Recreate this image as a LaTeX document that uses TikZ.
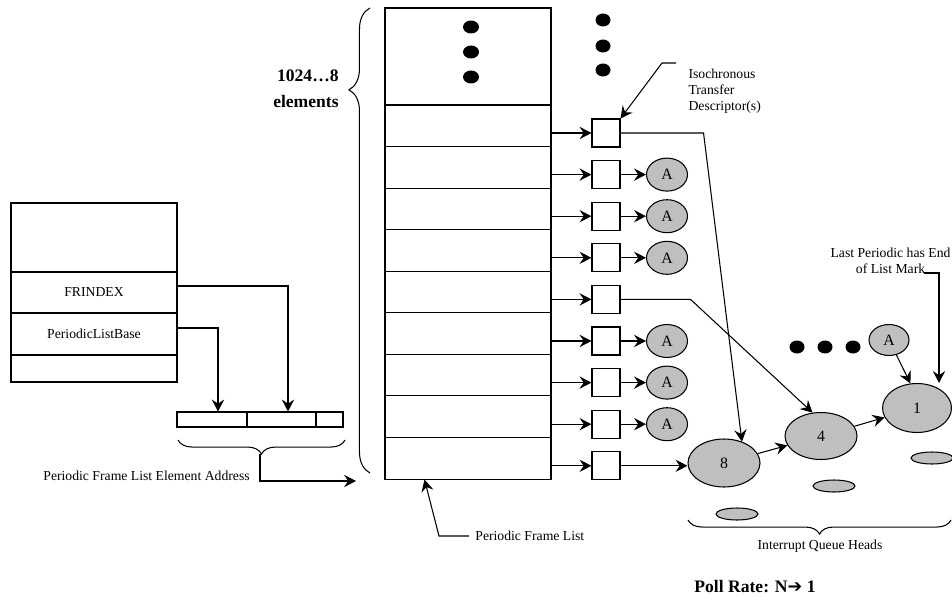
\documentclass[tikz,border=0pt]{standalone}
\usepackage{fontspec}
\setmainfont{Liberation Serif}
\newfontfamily\symfont{DejaVu Sans}
\usetikzlibrary{arrows.meta,shapes.geometric,decorations.pathreplacing}
\newcommand{\txt}{\fontsize{7.8}{9}\selectfont}
\newcommand{\qtxt}{\fontsize{9}{10}\selectfont}
\newcommand{\btxt}{\fontsize{10}{14.7}\selectfont\bfseries}

\begin{document}
\begin{tikzpicture}[x=0.02cm,y=-0.02cm,line width=0.6pt,
	>={Stealth[length=6.8pt,width=7pt,inset=2.4pt]},
	every node/.style={font=\txt},
	cell/.style={draw,inner sep=0pt,minimum width=33.2mm},
	frow/.style={draw,inner sep=0pt,minimum width=33.2mm,minimum height=8.31mm},
	td/.style={draw,inner sep=0pt,minimum size=5.6mm},
	qa/.style={ellipse,draw,fill=gray!50,inner sep=0pt,font=\qtxt,minimum width=8.2mm,minimum height=6.6mm},
	qh/.style={ellipse,draw,fill=gray!50,inner sep=0pt,font=\qtxt},
	flat/.style={draw,fill=gray!50}]
	%	\draw[help lines] (0,0) grid[step=50] (952,601);
	\useasboundingbox (0,0) rectangle (952,601);

	% register block
	\node[cell,minimum height=13.8mm] (reg0) at (94,237.5) {};
	\node[cell,minimum height=8.2mm] (frindex) at (94,292.5) {FRINDEX};
	\node[cell,minimum height=8.4mm] (plb) at (94,334) {PeriodicListBase};
	\node[cell,minimum height=5.4mm] (reg3) at (94,368.5) {};

	% address bar
	\node[cell,minimum width=14mm,minimum height=3mm] (ad1) at (212,419.5) {};
	\node[cell,minimum width=13.8mm,minimum height=3mm] (ad2) at (281.5,419.5) {};
	\node[cell,minimum width=5.4mm,minimum height=3mm] (ad3) at (329.5,419.5) {};

	\draw[->] ([yshift=1.3mm]frindex.east) -| ([xshift=1.3mm]ad2.north);
	\draw[->] ([yshift=1.2mm]plb.east) -| ([xshift=1.2mm]ad1.north);

	\draw[decorate,decoration={brace,mirror,amplitude=8pt}] (178,440) -- (345,440);
	\coordinate (adtip) at (260,454);
	\coordinate (flin) at (356,481);
	\draw[->] (adtip) |- (flin);
	\node[anchor=west] (addr) at (37,476) {Periodic Frame List Element Address};

	% frame list
	\draw[decorate,decoration={brace,amplitude=12pt,aspect=0.824}] (370,473) -- (370,8);
	\node[font=\btxt,align=right,anchor=east] (nel) at (345,89) {1024…8\\elements};

	\node[cell,minimum height=19.4mm] (ftop) at (468,56.5) {};
	\foreach \i in {1,...,9}{
		\node[frow] (r\i) at (468,{105+41.56*(\i-0.5)}) {};
		\node[td] (b\i) at (606,{133+41.6*(\i-1)}) {};
		\draw[->] (r\i.east |- b\i) -- (b\i.west);
	}
	\foreach \i in {2,3,4,6,7,8}{
		\node[qa] (a\i) at (667,{133+41.6*(\i-1)}) {A};
		\draw[->] (b\i) -- (a\i);
	}

	\foreach \y in {27,52,77} \fill (471,\y) ellipse [x radius=1.6mm,y radius=1.3mm];
	\foreach \y in {20,46,70} \fill (603,\y) ellipse [x radius=1.5mm,y radius=1.3mm];
	\foreach \x in {797,825,853} \fill (\x,347) ellipse [x radius=1.5mm,y radius=1.3mm];

	% queue heads
	\node[qh,minimum width=14.4mm,minimum height=9.6mm] (q8) at (724,463) {8};
	\node[qh,minimum width=14.4mm,minimum height=9.4mm] (q4) at (821,436) {4};
	\node[qh,minimum width=13.8mm,minimum height=9.8mm] (q1) at (917,408) {1};
	\node[qa,minimum width=8mm,minimum height=6.2mm] (aN) at (889,340) {A};

	\filldraw[flat] (737,514) ellipse [x radius=4.2mm,y radius=1.2mm];
	\filldraw[flat] (834,486) ellipse [x radius=4.2mm,y radius=1.2mm];
	\filldraw[flat] (932,458) ellipse [x radius=4.2mm,y radius=1.2mm];

	\draw[->] (b1.east) -- ++(83,0) -- (q8.50);
	\draw[->] (b5.east) -- ++(70,0) -- (q4.110);
	\draw[->] (b9.east) -- (b9.east -| q8.west);
	\draw[->] (q8) -- (q4);
	\draw[->] (q4) -- (q1);
	\draw[->] (aN) -- (q1.105);

	% labels
	\node[align=left,anchor=west,inner sep=0pt] (iso) at (688,91) {Isochronous\\Transfer\\Descriptor(s)};
	\coordinate (isol) at (676,63);
	\draw[->] (isol) -- ++(-14,0) -- (b1.north east);

	\node[align=center,anchor=east,inner sep=0pt] (lp) at (951,261) {Last Periodic has End\\of List Mark};
	\coordinate (lpm) at (924,273);
	\coordinate (lpc) at (939,273);
	\draw[->] (lpm) -- (lpc) -- (lpc |- q1.north);

	\node[anchor=west] (pfl) at (469,536) {Periodic Frame List};
	\coordinate (pfk) at (439,536);
	\draw[->] (pfl.west) -- (pfk) -- ([xshift=8mm]r9.south west);

	\draw[decorate,decoration={brace,mirror,amplitude=8pt}] (688,520) -- (951,520);
	\node (iqh) at (820,546) {Interrupt Queue Heads};
	\node[font=\btxt] (poll) at (755,587) {Poll Rate: N{\symfont ➔} 1};
\end{tikzpicture}
\end{document}
